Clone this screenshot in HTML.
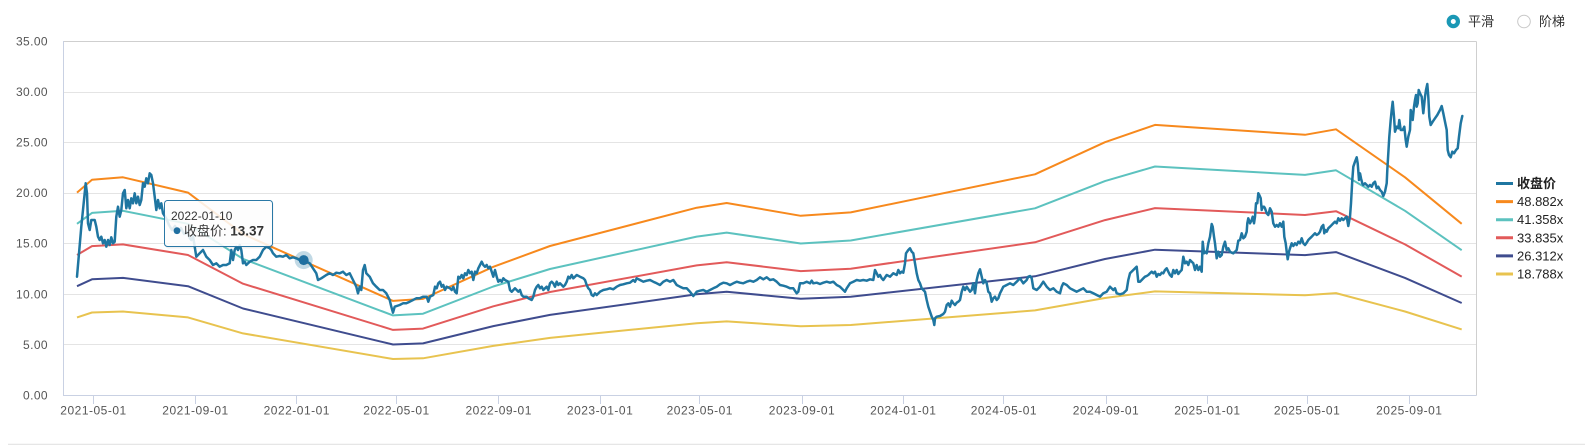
<!DOCTYPE html>
<html>
<head>
<meta charset="utf-8">
<style>
html,body{margin:0;padding:0;background:#fff;}
body{width:1585px;height:445px;overflow:hidden;}
svg{display:block;font-family:"Liberation Sans","Noto Sans CJK SC",sans-serif;}
</style>
</head>
<body>
<svg width="1585" height="445" viewBox="0 0 1585 445" xmlns="http://www.w3.org/2000/svg">
<rect width="1585" height="445" fill="#fff"/>
<!-- grid -->
<g stroke="#e4e4e4" stroke-width="1">
<line x1="63" y1="92.5" x2="1476" y2="92.5"/>
<line x1="63" y1="142.5" x2="1476" y2="142.5"/>
<line x1="63" y1="193.5" x2="1476" y2="193.5"/>
<line x1="63" y1="243.5" x2="1476" y2="243.5"/>
<line x1="63" y1="294.5" x2="1476" y2="294.5"/>
<line x1="63" y1="344.5" x2="1476" y2="344.5"/>
</g>
<line x1="63" y1="41.5" x2="1476.5" y2="41.5" stroke="#cfcfcf"/>
<line x1="1476.5" y1="41.5" x2="1476.5" y2="395.5" stroke="#cfcfcf"/>
<line x1="63.5" y1="41" x2="63.5" y2="395.5" stroke="#c9d1e3"/>
<line x1="63" y1="395.5" x2="1476.5" y2="395.5" stroke="#c9d1e3"/>
<!-- x ticks -->
<g stroke="#c9d1e3" stroke-width="1">
<line x1="93.5" y1="395.5" x2="93.5" y2="404"/>
<line x1="195.5" y1="395.5" x2="195.5" y2="404"/>
<line x1="296.5" y1="395.5" x2="296.5" y2="404"/>
<line x1="396.5" y1="395.5" x2="396.5" y2="404"/>
<line x1="498.5" y1="395.5" x2="498.5" y2="404"/>
<line x1="600.5" y1="395.5" x2="600.5" y2="404"/>
<line x1="699.5" y1="395.5" x2="699.5" y2="404"/>
<line x1="802.5" y1="395.5" x2="802.5" y2="404"/>
<line x1="903.5" y1="395.5" x2="903.5" y2="404"/>
<line x1="1003.5" y1="395.5" x2="1003.5" y2="404"/>
<line x1="1106.5" y1="395.5" x2="1106.5" y2="404"/>
<line x1="1207.5" y1="395.5" x2="1207.5" y2="404"/>
<line x1="1307.5" y1="395.5" x2="1307.5" y2="404"/>
<line x1="1409.5" y1="395.5" x2="1409.5" y2="404"/>
</g>
<!-- y labels -->
<g font-size="12" fill="#555" text-anchor="end" letter-spacing="0.4">
<text x="48" y="45.5">35.00</text>
<text x="48" y="96">30.00</text>
<text x="48" y="146.5">25.00</text>
<text x="48" y="197">20.00</text>
<text x="48" y="247.5">15.00</text>
<text x="48" y="298.5">10.00</text>
<text x="48" y="349">5.00</text>
<text x="48" y="399.5">0.00</text>
</g>
<!-- x labels -->
<g font-size="12" fill="#555" text-anchor="middle" letter-spacing="0.5">
<text x="93.5" y="414.5">2021-05-01</text>
<text x="195.5" y="414.5">2021-09-01</text>
<text x="296.8" y="414.5">2022-01-01</text>
<text x="396.5" y="414.5">2022-05-01</text>
<text x="498.7" y="414.5">2022-09-01</text>
<text x="600.1" y="414.5">2023-01-01</text>
<text x="699.8" y="414.5">2023-05-01</text>
<text x="802" y="414.5">2023-09-01</text>
<text x="903.3" y="414.5">2024-01-01</text>
<text x="1003.9" y="414.5">2024-05-01</text>
<text x="1106" y="414.5">2024-09-01</text>
<text x="1207.4" y="414.5">2025-01-01</text>
<text x="1307.1" y="414.5">2025-05-01</text>
<text x="1409.3" y="414.5">2025-09-01</text>
</g>
<!-- bands -->
<g fill="none" stroke-width="2" stroke-linejoin="round">
<polyline stroke="#f7891d" points="77,192.6 92,179.8 123,177.3 188,192.6 243,234.1 393,300.9 423,298.9 493.3,266.8 550,246 696.7,207.7 726.7,203 800.7,215.8 850.7,212.4 1035,174.3 1105,142.2 1155,124.9 1305,134.8 1336,129.3 1405,177.3 1461.7,223.8"/>
<polyline stroke="#5cc2bf" points="77,223.8 92,212.9 123,210.8 188,223.8 243,258.9 393,315.4 423,313.7 493.3,286.5 550,269 696.7,236.6 726.7,232.6 800.7,243.5 850.7,240.5 1035,208.3 1105,181.1 1155,166.5 1305,174.9 1336,170.3 1405,210.8 1461.7,250.2"/>
<polyline stroke="#e25a5a" points="77,255 92,246.1 123,244.4 188,255 243,283.7 393,329.9 423,328.6 493.3,306.3 550,292 696.7,265.4 726.7,262.2 800.7,271.1 850.7,268.7 1035,242.3 1105,220.1 1155,208.1 1305,215 1336,211.2 1405,244.4 1461.7,276.6"/>
<polyline stroke="#3f4c8e" points="77,286.2 92,279.3 123,277.9 188,286.2 243,308.5 393,344.5 423,343.4 493.3,326.1 550,314.9 696.7,294.3 726.7,291.8 800.7,298.7 850.7,296.8 1035,276.3 1105,259 1155,249.7 1305,255.1 1336,252.1 1405,277.9 1461.7,303"/>
<polyline stroke="#e8c34f" points="77,317.4 92,312.5 123,311.5 188,317.4 243,333.4 393,359 423,358.3 493.3,345.9 550,337.9 696.7,323.2 726.7,321.4 800.7,326.3 850.7,325 1035,310.4 1105,298 1155,291.4 1305,295.2 1336,293.1 1405,311.5 1461.7,329.4"/>
</g>
<!-- price -->
<polyline fill="none" stroke="#1f76a1" stroke-width="2.5" stroke-linejoin="round" stroke-linecap="round" points="77,276.7 81.3,226.7 84,200 85.7,183.3 87,193.3 88,223.3 89.7,230 91.3,220 94.7,220 96.3,226.7 98,236.7 99.7,240 101.3,236.7 103,243.3 104.7,240 106.3,246.7 108,240 109.7,245 111.3,237.3 113,243.3 114.7,241.7 116.3,216.7 118,206.7 119.7,216.7 121.3,210 123,193.3 124.7,190 126.3,208.3 128,200 129.7,208.3 131.3,198.3 133,203.3 134.7,193.3 136.3,203.3 138,196.7 139.7,205 141.3,200 143,183.3 144.7,186.7 146.3,178.3 148,183.3 149.7,173.3 151.3,175 153,183.3 154.7,196.7 156.3,210 158,200 159.7,208.3 161.3,203.3 163,213.3 166,218 169,225 172,230 175,226 178,232 181,228 184,234 187,232 189.7,238 191.3,240 193,236 194.7,246.7 196.3,256.7 199.7,253.3 203,250 206.3,256.7 209.7,260 213,265 216.3,263.3 219.7,266.7 223,265 226.3,265 229.7,263.3 231.3,250 233,260 234.7,250 236.3,246.7 238,250 239.7,245 241.3,250 243,263.3 244.7,261.7 246.3,265 249.7,261.7 253,260 256.3,260 259.7,256.7 263,250 266.3,246.7 269.7,248.3 271.3,250 273,253.3 276.3,256.7 279.7,256 283,256.7 286.3,255 289.7,258.3 293,257.3 296.3,258.3 299.7,260 303.7,260.1 309.7,263.3 313,268.3 316.3,273.3 318,280 321.3,278.3 326.3,275 329.7,273.3 333,275 336.3,272.7 339.7,273.3 343,271.7 346.3,275 349.7,273.3 353,280 356.3,286.7 358,293.3 359.7,286.7 361.3,290 363,270 364.7,265 366.3,273.3 369.7,276.7 373,283.3 376.3,286.7 379.7,290 383,290 386.3,293.3 389.7,300 391.3,306.7 393,312.7 394.7,306.7 399.7,305 403,303.3 406.3,303.3 409.7,301.7 413,300 416.3,298.3 419.7,298.3 423,296.7 426.7,296.7 428.3,301.7 430,296.7 433.3,295 435,286.7 436.7,288.3 438.3,283.3 440,281.7 441.7,286.7 443.3,285 445,290 446.7,286.7 450,288.3 451.7,290 453.3,286.7 455,291.7 456.7,293.3 458.3,276.7 460,278.3 461.7,275 463.3,278.3 465,273.3 466.7,275 468.3,270 470,273.3 471.7,271.7 473.3,280 475,271.7 476.7,273.3 478.3,268.3 480,265 481.7,261.7 483.3,265 485,266.7 486.7,265 488.3,268.3 490,266.7 491.7,271.7 493.3,276.7 495,270 496.7,276.7 498.3,281.7 500,280 501.7,281.7 503.3,278.3 505,280 508.3,281.7 510,290 511.7,291.7 515,288.3 516.7,290 518.3,291.7 520,290 521.7,295 523.3,296.7 526.7,296.7 528.3,298.3 531.7,300 533.3,296.7 535,290 536.7,286.7 538.3,285 540,288.3 541.7,286.7 543.3,290 545,288.3 546.7,286.7 548.3,290 550,283.3 551.7,281.7 553.3,283.3 555,286.7 556.7,281.7 558.3,285 560,283.3 561.7,285 563.3,286.7 565,285 566.7,281.7 568.3,276.7 570,278.3 571.7,275 573.3,278.3 575,276.7 576.7,275 580,276.7 583.3,278.3 585,280 586.7,285 588.3,288.3 590,290 591.7,295 593.3,296 595,293.3 596.7,295 600,291.7 603.3,290 606.7,289.3 610,288.3 613.3,289.3 616.7,286.7 620,285 623.3,284.3 626.7,283.3 630,282.7 633.3,280 635,281.7 636.7,278.3 640,280 643.3,281.7 646.7,280.7 650,280 653.3,281.7 656.7,283.3 660,285 663.3,281.7 666.7,280 670,281.7 673.3,280 676.7,285 680,286.7 683.3,288.3 686.7,288.3 690,291.7 693.3,296 695,294 696.7,291.7 700,290.7 703.3,290 706.7,291.7 710,290 713.3,288.3 716.7,286.7 720,284.3 723.3,282.7 726.7,283.3 730,285 733.3,283.3 736.7,281.7 740,282.7 743.3,283.3 746.7,281.7 750,280.7 753.3,281.7 756.7,280 760,277.3 763.3,279.3 766.7,277.3 770,280 773.3,279.3 776.7,281.7 780,285 783.3,285.7 786.7,286.7 790,288.3 793.3,288.3 796.7,293.3 798.3,291.7 800,283.3 803.3,283.3 806.7,281.7 810,283.3 811.7,280.7 813.3,283.3 816.7,282.7 820,284 823.3,282.7 826.7,281.7 830,282.7 833.3,281.7 836.7,285 840,286.7 843.3,290 845,291.7 846.7,288.3 850,283.3 853.3,281.7 856.7,280 860,280.7 863.3,280 866.7,280.7 870,279.3 873.3,280 875,270 876.7,273.3 878.3,276.7 880,275 881.7,278.3 883.3,280 886.7,275 890,276.7 893.3,273.3 896.7,275 898.3,270 900,273.3 901.7,271.7 903.3,272.7 905,263.3 906,253.3 908.3,250 910,248.3 911.7,251.7 913.3,253.3 915,263.3 916.7,273.3 918.3,280 920,283.3 921.7,288.3 923.3,290 925,291.7 926.7,300 928.3,306.7 930,311.7 931.7,316.7 933.3,320 934.3,325 935,318.3 936.7,316.7 940,316 943.3,314 945,311.7 946.7,305 948.3,303.3 950,306.7 951.7,300.7 953.3,303.3 955,305 956.7,302.7 958.3,301.7 960,300 961.7,291.7 963.3,286.7 965,290 966.7,286.7 970,291.7 971.7,290 973.3,283.3 975,293.3 976.7,280 978.3,273.3 980,269.3 981.7,276.7 983.3,283.3 985,280 986.7,283.3 988.3,291.7 990,293.3 991.7,301.7 993.3,298.3 995,296.7 996.7,300 998.3,298.3 1000,293.3 1001.7,290 1003.3,286.7 1006.7,285 1010,283.3 1013.3,285 1016.7,281.7 1020,278.3 1023.3,283.3 1026.7,280 1028.3,276.7 1030,276 1031.7,278.3 1033.3,288.3 1036.7,290 1040,286.7 1043.3,281.7 1046.7,286.7 1050,290 1053.3,288.3 1056.7,291.7 1060,293.3 1061.7,286.7 1063.3,283.3 1066.7,285 1070,288.3 1073.3,290 1076.7,291.7 1080,290 1083.3,288.3 1086.7,291.7 1090,291.7 1093.3,293.3 1096.7,295 1100,296.7 1103.3,293.3 1106.7,291.7 1110,286.7 1113.3,290 1115,288.3 1116.7,293.3 1120,294.3 1123.3,293.3 1126.7,290 1128.3,280 1130,273.3 1133.3,270 1136.7,266.7 1138.3,281.7 1140,281.7 1141.7,280 1143.3,278.3 1145,276.7 1146.7,276 1148.3,275 1150,273.3 1151.7,271.7 1153.3,273.3 1155,271.7 1156.7,276.7 1158.3,274 1160,275 1161.7,272.7 1163.3,273.3 1165,270 1166.7,268.3 1168.3,271.7 1170,275 1171.7,276.7 1173.3,270 1175,273.3 1176.7,270 1178.3,274 1180,271.7 1181.7,270 1183.3,256.7 1185,263.3 1186.7,261.7 1188.3,265 1190,260 1191.7,261.7 1193.3,263.3 1195,270 1196.7,265 1198.3,270 1200,266.7 1201.7,271.7 1202.7,241.7 1204,253.3 1205,251.7 1206.7,253.3 1208.3,243.3 1210,236.7 1211.7,224 1212.7,226.7 1214,236.7 1215,243.3 1216.7,258.3 1218.3,251.7 1220,256.7 1221.7,255 1223.3,246.7 1225,241.7 1226.7,250 1228.3,248.3 1230,251.7 1231.7,252.7 1233.3,253.3 1235,251.7 1236.7,250 1238.3,240.7 1240,240 1241.7,233.3 1243.3,238.3 1245,236.7 1246.7,231.7 1247.3,223.3 1248.3,218.3 1250,223.3 1251.7,220 1252.7,216.7 1254,223.3 1255,216.7 1256,203.3 1257.3,203.3 1258.3,193.3 1259.3,195 1260.7,198.3 1261.7,210 1262.7,206.7 1264,206.7 1265,208.3 1266.7,213.3 1268.3,215 1270,208.3 1271.7,211.7 1273.3,223.3 1275,226.7 1276.7,225 1278.3,226.7 1280,223.3 1281.7,226.7 1283.3,221.7 1284.3,236.7 1285.7,243.3 1286.7,251.7 1287.7,259.3 1289,251.7 1290,248.3 1291.7,243.3 1293.3,246 1295,243.3 1296.7,245 1298.3,241.7 1300,243.3 1301.7,238.3 1303.3,243.3 1305,245 1306.7,242.7 1308.3,240 1310,238.3 1311.7,236.7 1313.3,235 1315,233.3 1316.7,235 1318.3,234 1320,231.7 1321.7,226.7 1323.3,225 1324.3,233.3 1325.3,230 1326.7,231.7 1328.3,228.3 1330,226.7 1331.7,225 1333.3,223.3 1335,221.7 1336.7,223.3 1338.3,218.3 1340,220.7 1341.7,218.3 1343.3,220 1345,218.3 1346.7,216.7 1348.3,226 1350,216.7 1351,203.3 1352.3,180 1353.3,166.7 1355,161.7 1356.7,157.3 1357.7,163.3 1359,180 1360,173.3 1361,178.3 1362.3,183.3 1363.3,185 1365,183.3 1366.7,185 1368.3,186.7 1370,185 1371.7,186.7 1373.3,183.3 1375,181.7 1376.7,188.3 1378.3,186.7 1380,190 1381.7,191.7 1383.3,196 1385,191.7 1386.7,183.3 1387.3,170 1388.3,153.3 1389.3,136.7 1390.7,120 1391.7,110 1392.7,101.7 1394,116.7 1395,131.7 1396.7,126.7 1398.3,128.3 1399.3,120 1400.7,130 1402.7,130 1404.3,126.7 1405.7,140 1406.7,146.7 1408.3,136.7 1410,130 1410.7,110 1411.7,113.3 1412.7,120 1414,106.7 1415,100 1416,95 1416.7,106.7 1417.7,103.3 1418.7,90 1420,93.3 1421.7,96.7 1423.3,113.3 1425,96.7 1426,90 1427.3,84 1428.3,96.7 1429.3,116.7 1430.7,125 1432.7,121.7 1435,118.3 1437.3,115 1440,110 1441.7,106 1443.3,113.3 1445,121.7 1446.7,130 1447.7,150 1449,155 1450.7,157.3 1452.3,151.7 1454,153.3 1456,150 1457.7,148.3 1459,136.7 1460.7,123.3 1462.3,116"/>
<!-- marker -->
<circle cx="303.7" cy="260.1" r="9" fill="#1f76a1" fill-opacity="0.28"/>
<circle cx="303.7" cy="260.1" r="5" fill="#1f6fa0"/>
<!-- tooltip -->
<rect x="165.5" y="201.5" width="108" height="47" rx="3" fill="#000" fill-opacity="0.06"/>
<rect x="164.5" y="200.5" width="108" height="46" rx="3" fill="#fff" fill-opacity="0.86" stroke="#2a78a6" stroke-width="1"/>
<text x="171" y="220" font-size="12" fill="#333">2022-01-10</text>
<circle cx="177" cy="230.7" r="3.4" fill="#1f6fa0"/>
<text x="184" y="235.3" font-size="13" fill="#333">收盘价: <tspan font-weight="bold" font-size="13.5">13.37</tspan></text>
<!-- top legend -->
<circle cx="1453.3" cy="21.5" r="4.6" fill="#fff" stroke="#1a98b5" stroke-width="4.2"/>
<text x="1468" y="26" font-size="13" fill="#333">平滑</text>
<circle cx="1524" cy="21.5" r="6.3" fill="#fff" stroke="#c8c8c8" stroke-width="1"/>
<text x="1539" y="26" font-size="13" fill="#333">阶梯</text>
<!-- right legend -->
<g stroke-width="3">
<line x1="1496" y1="183.5" x2="1513" y2="183.5" stroke="#1f76a1"/>
<line x1="1496" y1="201.6" x2="1513" y2="201.6" stroke="#f7891d"/>
<line x1="1496" y1="219.7" x2="1513" y2="219.7" stroke="#5cc2bf"/>
<line x1="1496" y1="237.8" x2="1513" y2="237.8" stroke="#e25a5a"/>
<line x1="1496" y1="255.9" x2="1513" y2="255.9" stroke="#3f4c8e"/>
<line x1="1496" y1="274" x2="1513" y2="274" stroke="#e8c34f"/>
</g>
<g font-size="13" fill="#222">
<text x="1517" y="188" font-weight="bold">收盘价</text>
<text x="1517" y="206.1">48.882x</text>
<text x="1517" y="224.2">41.358x</text>
<text x="1517" y="242.3">33.835x</text>
<text x="1517" y="260.4">26.312x</text>
<text x="1517" y="278.5">18.788x</text>
</g>
<!-- bottom rule -->
<line x1="8" y1="444.5" x2="1585" y2="444.5" stroke="#e6e6e6" stroke-width="1.5"/>
</svg>
</body>
</html>
